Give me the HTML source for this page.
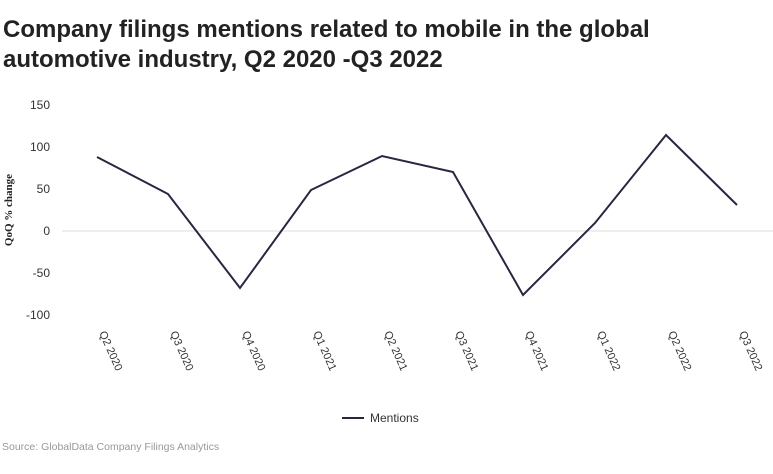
<!DOCTYPE html>
<html><head><meta charset="utf-8"><style>
body{margin:0;background:#fff;width:773px;height:469px;overflow:hidden;font-family:"Liberation Sans",sans-serif;}
</style></head><body>
<svg width="773" height="469" xmlns="http://www.w3.org/2000/svg" font-family="Liberation Sans, sans-serif">
<text x="3" y="37" font-size="24" font-weight="bold" fill="#222">Company filings mentions related to mobile in the global</text>
<text x="3" y="67" font-size="24" font-weight="bold" fill="#222">automotive industry, Q2 2020 -Q3 2022</text>
<line x1="62" y1="231" x2="773" y2="231" stroke="#ddd" stroke-width="1"/>
<g font-size="12" fill="#333" text-anchor="end">
<text x="50" y="109">150</text><text x="50" y="151">100</text><text x="50" y="193">50</text>
<text x="50" y="235">0</text><text x="50" y="277">-50</text><text x="50" y="319">-100</text>
</g>
<text transform="translate(12,210) rotate(-90)" font-size="11" font-weight="bold" fill="#222" text-anchor="middle" font-family="Liberation Serif, serif">QoQ % change</text>
<polyline fill="none" stroke="#2a2540" stroke-width="2" points="97,157 168,194 240,288 311,190 382,156 453,172 523,295 595,223 666,135 737,205"/>
<g font-size="11" fill="#333">
<text transform="translate(99,333) rotate(66)">Q2 2020</text>
<text transform="translate(170,333) rotate(66)">Q3 2020</text>
<text transform="translate(242,333) rotate(66)">Q4 2020</text>
<text transform="translate(313,333) rotate(66)">Q1 2021</text>
<text transform="translate(384,333) rotate(66)">Q2 2021</text>
<text transform="translate(455,333) rotate(66)">Q3 2021</text>
<text transform="translate(525,333) rotate(66)">Q4 2021</text>
<text transform="translate(597,333) rotate(66)">Q1 2022</text>
<text transform="translate(668,333) rotate(66)">Q2 2022</text>
<text transform="translate(739,333) rotate(66)">Q3 2022</text>
</g>
<line x1="342" y1="418" x2="364" y2="418" stroke="#2a2540" stroke-width="2"/>
<text x="370" y="422" font-size="12" fill="#333">Mentions</text>
<text x="2" y="450" font-size="10.5" fill="#999">Source: GlobalData Company Filings Analytics</text>
</svg>
</body></html>
